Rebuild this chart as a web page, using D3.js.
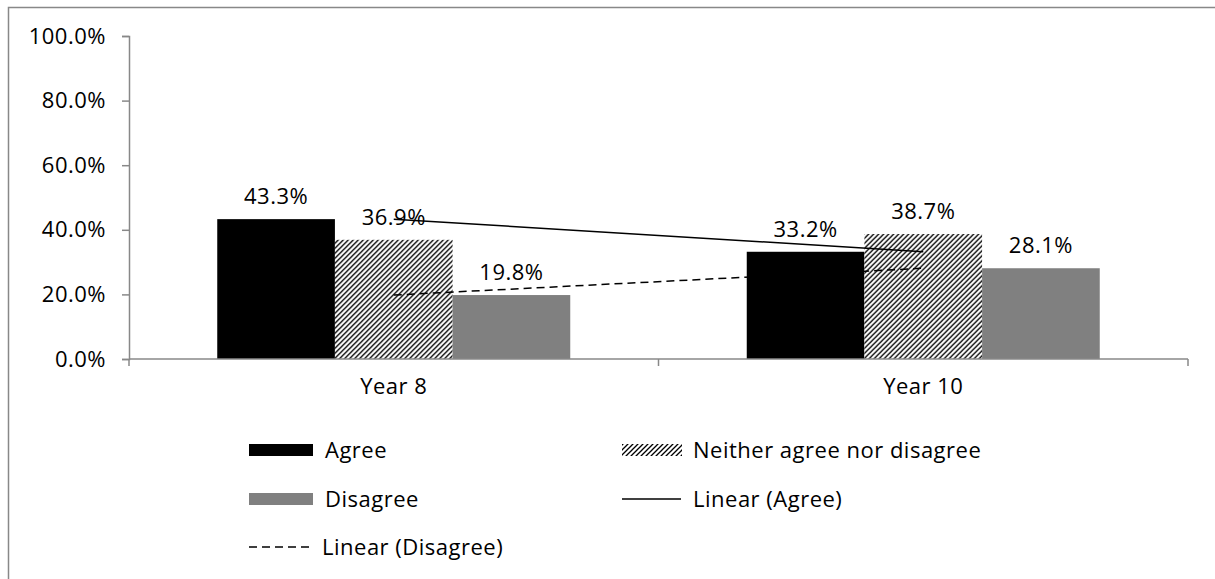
<!DOCTYPE html>
<html>
<head>
<meta charset="utf-8">
<script src="https://cdn.jsdelivr.net/npm/d3@7"></script>
<style>
  body { margin: 0; background: #fff; }
  svg { display: block; font-family: "Open Sans", sans-serif; letter-spacing: 0.5px; }
</style>
</head>
<body>
<svg id="chart" width="1215" height="579"></svg>
<script>
// ----- Data -----
const categories = ["Year 8", "Year 10"];
const seriesNames = ["Agree", "Neither agree nor disagree", "Disagree"];
const agree = [0.433, 0.332];
const neither = [0.369, 0.387];
const disagree = [0.198, 0.281];
const yTicks = [0, 0.2, 0.4, 0.6, 0.8, 1.0];

// ----- Layout -----
const plot = { left: 129, top: 36, right: 1188, bottom: 359 };
const plotWidth = plot.right - plot.left,
      plotHeight = plot.bottom - plot.top;
const fontSize = 22;
const dash = "8,5";

const svg = d3.select("#chart");

// hatch pattern
const defs = svg.append("defs");
const pat = defs.append("pattern")
    .attr("id", "hatch")
    .attr("patternUnits", "userSpaceOnUse")
    .attr("width", 5)
    .attr("height", 5);
pat.append("rect").attr("width", 5).attr("height", 5).attr("fill", "#fff");
pat.append("path")
    .attr("d", "M-1,1 L1,-1 M0,5 L5,0 M4,6 L6,4")
    .attr("stroke", "#000")
    .attr("stroke-width", 1.3);

// outer frame (left + top visible)
svg.append("path")
    .attr("d", "M8.5,579 V7.5 H1215")
    .attr("fill", "none")
    .attr("stroke", "#888")
    .attr("stroke-width", 1.5);

const g = svg.append("g").attr("transform", `translate(${plot.left},${plot.top})`);

const x0 = d3.scaleBand().domain(categories).range([0, plotWidth]);
const barW = x0.bandwidth() / 4.5;
const x1 = d3.scaleBand().domain(seriesNames).range([0, barW * 3]);
const y = d3.scaleLinear().domain([0, 1]).range([plotHeight, 0]);

// Y axis
const yAxis = g.append("g")
    .call(d3.axisLeft(y).tickValues(yTicks).tickFormat(d => (d * 100).toFixed(1) + "%").tickSizeOuter(0).tickSize(7).tickPadding(16));
yAxis.select(".domain").attr("stroke", "#888").attr("stroke-width", 1.5);
yAxis.selectAll(".tick line").attr("stroke", "#888").attr("stroke-width", 1.5);
yAxis.selectAll(".tick text").attr("font-size", fontSize).attr("fill", "#000")
    .attr("font-family", "'Open Sans', sans-serif");

const fills = { "Agree": "#000", "Neither agree nor disagree": "url(#hatch)", "Disagree": "#808080" };
const values = { "Agree": agree, "Neither agree nor disagree": neither, "Disagree": disagree };

// Bars
const groups = g.selectAll(".grp").data(categories).enter().append("g")
    .attr("transform", d => `translate(${x0(d) + barW * 0.75},0)`);

groups.each(function (cat, i) {
    const grp = d3.select(this);
    seriesNames.forEach(s => {
        const v = values[s][i];
        grp.append("rect")
            .attr("x", x1(s))
            .attr("y", y(v))
            .attr("width", x1.bandwidth())
            .attr("height", plotHeight - y(v))
            .attr("fill", fills[s]);
        grp.append("text")
            .attr("x", x1(s) + x1.bandwidth() / 2)
            .attr("y", y(v) - 15)
            .attr("text-anchor", "middle")
            .attr("font-size", fontSize)
            .text((v * 100).toFixed(1) + "%");
    });
});

// X axis (ticks between categories)
const xTickPos = [0, plotWidth / 2, plotWidth];
g.append("line")
    .attr("x1", 0).attr("x2", plotWidth)
    .attr("y1", plotHeight).attr("y2", plotHeight)
    .attr("stroke", "#888").attr("stroke-width", 1.5);
g.selectAll(".xtick").data(xTickPos).enter().append("line")
    .attr("x1", d => d).attr("x2", d => d)
    .attr("y1", plotHeight).attr("y2", plotHeight + 7)
    .attr("stroke", "#888").attr("stroke-width", 1.5);
g.selectAll(".xlabel").data(categories).enter().append("text")
    .attr("x", d => x0(d) + x0.bandwidth() / 2)
    .attr("y", plotHeight + 35)
    .attr("text-anchor", "middle")
    .attr("font-size", fontSize)
    .text(d => d);

// Trendlines (linear through category centres)
const line = d3.line().x((d, i) => x0(categories[i]) + x0.bandwidth() / 2).y(d => y(d));
g.append("path").datum(agree)
    .attr("d", line).attr("fill", "none").attr("stroke", "#000").attr("stroke-width", 1.5);
g.append("path").datum(disagree)
    .attr("d", line).attr("fill", "none").attr("stroke", "#000").attr("stroke-width", 1.5)
    .attr("stroke-dasharray", dash);

// ----- Legend -----
const legendItems = [
    { name: "Agree", type: "rect", fill: "#000", x: 249, y: 450 },
    { name: "Neither agree nor disagree", type: "rect", fill: "url(#hatch)", x: 622, y: 450 },
    { name: "Disagree", type: "rect", fill: "#808080", x: 249, y: 499 },
    { name: "Linear (Agree)", type: "line", dash: null, x: 622, y: 499 },
    { name: "Linear (Disagree)", type: "line", dash: dash, x: 249, y: 547 }
];
const leg = svg.selectAll(".leg").data(legendItems).enter().append("g")
    .attr("transform", d => `translate(${d.x},${d.y})`);
leg.each(function (d) {
    const e = d3.select(this);
    if (d.type === "rect") {
        e.append("rect").attr("x", 0).attr("y", -6).attr("width", d.fill === "url(#hatch)" ? 60 : 64).attr("height", 12).attr("fill", d.fill);
        e.append("text").attr("x", d.fill === "url(#hatch)" ? 71 : 76).attr("y", 8).attr("font-size", fontSize).text(d.name);
    } else {
        e.append("line").attr("x1", 0).attr("x2", d.dash ? 62 : 59).attr("y1", 0).attr("y2", 0)
            .attr("stroke", "#000").attr("stroke-width", 1.5).attr("stroke-dasharray", d.dash);
        e.append("text").attr("x", d.dash ? 73 : 71).attr("y", 8).attr("font-size", fontSize).text(d.name);
    }
});
</script>
</body>
</html>
